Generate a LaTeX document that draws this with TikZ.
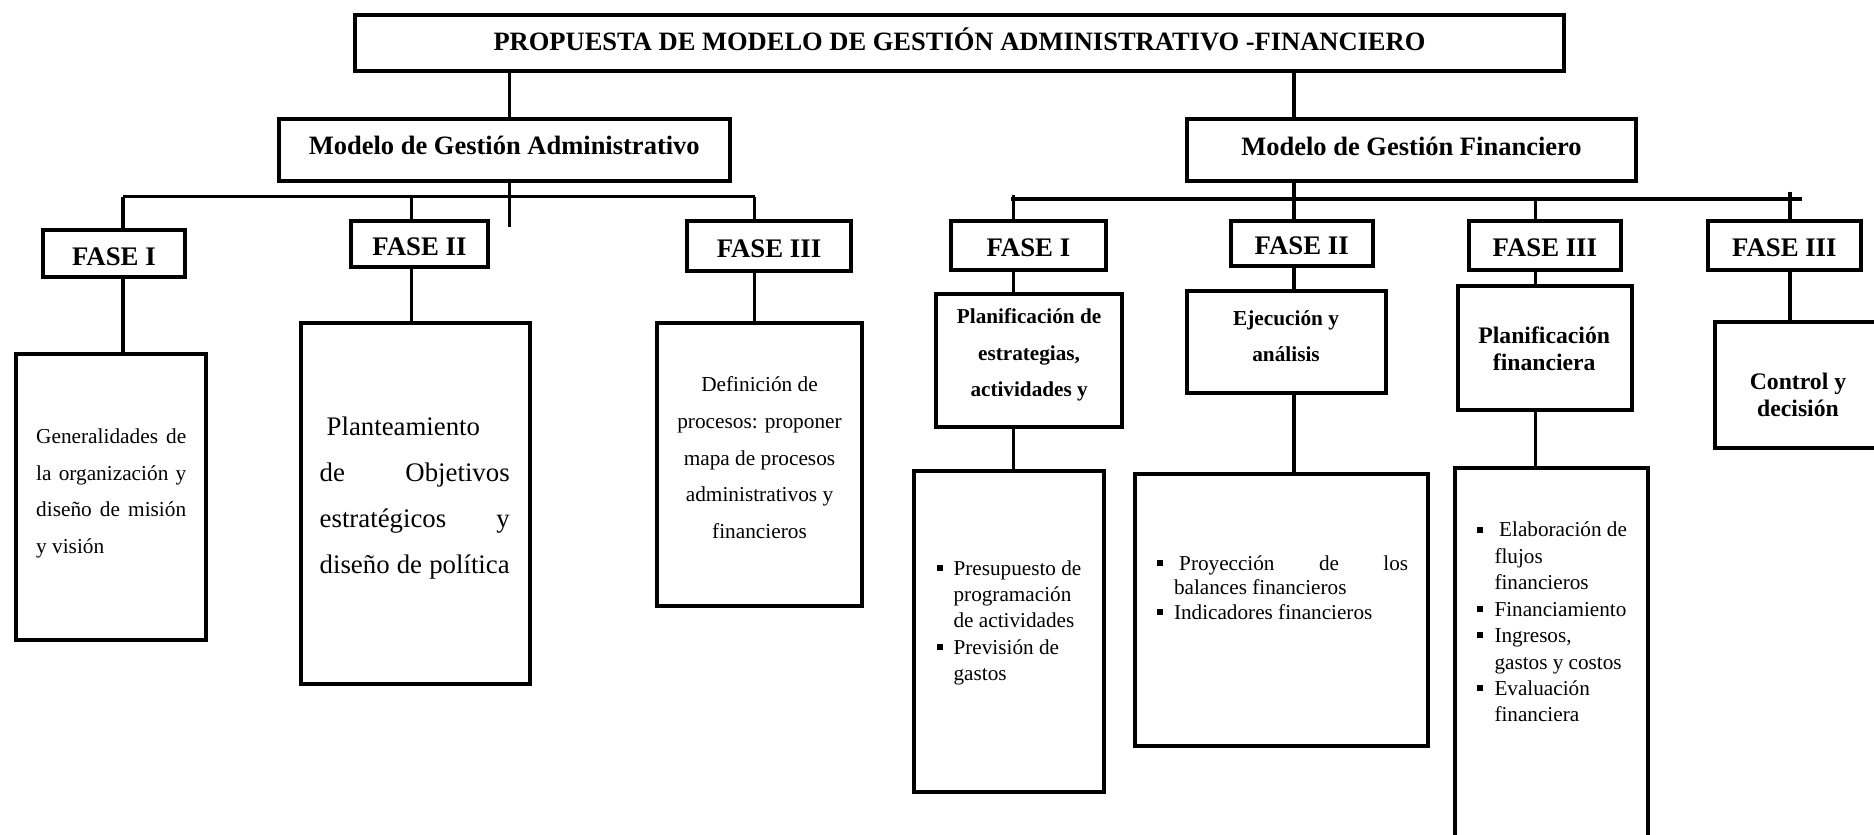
\documentclass[tikz,border=0pt]{standalone}
\usepackage{fontspec}
\setmainfont{Liberation Serif}
\newcommand\fhead{\fontsize{26.5}{32}\selectfont\bfseries}
\newcommand\ffase{\fontsize{26.8}{32}\selectfont\bfseries}
\begin{document}
\begin{tikzpicture}[x=1pt,y=-1pt,
  box/.style={draw, line width=4pt, inner sep=0pt},
  wh/.style 2 args={minimum width=#1pt, minimum height=#2pt},
  link/.style={line width=3.6pt},
  headbox/.style={box, font=\fhead, text height=10pt, text depth=0pt},
  fasebox/.style={box, font=\ffase, text height=23pt, text depth=0pt},
  txt/.style={inner sep=0pt},
  sq/.style={fill, inner sep=0pt, minimum size=6pt}]
\useasboundingbox (0,0) rectangle (1874,835);
\clip (0,0) rectangle (1874,835);

% ---- top level ----
\node[box, wh={1209}{56.5}, font=\fhead, text height=15pt, text depth=0pt] (title) at (959.5,42.75)
  {PROPUESTA DE MODELO DE GESTIÓN ADMINISTRATIVO -FINANCIERO};
\node[headbox, wh={450.5}{61.5}] (admin) at (504.25,149.75) {Modelo de Gestión Administrativo};
\node[headbox, wh={449.8}{61.4}] (fin) at (1411.5,150) {Modelo de Gestión Financiero};

% ---- administrative branch ----
\node[fasebox, wh={142.2}{47}]   (aF1) at (113.9,253.6) {FASE I};
\node[fasebox, wh={137}{46.8}]   (aF2) at (419.5,243.9) {FASE II};
\node[fasebox, wh={164}{50.5}]   (aF3) at (769,245.9)   {FASE III};
\node[box, wh={189.6}{285.5}] (gen)  at (111.2,496.75) {};
\node[box, wh={228.6}{360.7}] (plan) at (415.3,503.35) {};
\node[box, wh={205}{283}]     (defi) at (759.5,464.5)  {};

\node[txt, anchor=north west, align=left, font=\fontsize{21.3}{36.7}\selectfont] (tgen) at (36,417.6)
  {\strut\makebox[150pt][s]{Generalidades de}\\\makebox[150pt][s]{la organización y}\\\makebox[150pt][s]{diseño de misión}\\y visión};
\node[txt, anchor=north west, align=left, font=\fontsize{26.8}{46.1}\selectfont] (tplan) at (319.5,402.7)
  {\strut\hspace*{7pt}Planteamiento\\\makebox[190pt][s]{de Objetivos}\\\makebox[190pt][s]{estratégicos y}\\\makebox[190pt][s]{diseño de política}};
\node[txt, anchor=north, align=center, font=\fontsize{21.3}{36.65}\selectfont] (tdefi) at (759.5,366)
  {\strut Definición de\\procesos: proponer\\mapa de procesos\\administrativos y\\financieros};

% ---- financial branch ----
\node[fasebox, wh={155.8}{49.2}] (fF1) at (1028.4,245.1)  {FASE I};
\node[fasebox, wh={141.5}{45.8}] (fF2) at (1301.75,243.4) {FASE II};
\node[fasebox, wh={151.7}{49.2}] (fF3) at (1544.85,245.1) {FASE III};
\node[fasebox, wh={152.7}{48.7}] (fF4) at (1784.35,245.35) {FASE III};

\node[box, wh={185.4}{133}]   (pe)  at (1029.1,360)    {};
\node[box, wh={199.3}{101.2}] (ej)  at (1286.65,341.9) {};
\node[box, wh={174}{123.5}]   (pf)  at (1544.5,347.75) {};
\node[box, wh={183.3}{125.5}] (ctl) at (1806.35,384.75) {};
\node[box, wh={190}{320.5}]   (b1)  at (1009,631.55)   {};
\node[box, wh={293.5}{271.7}] (b2)  at (1281.55,609.85) {};
\node[box, wh={192.7}{390.5}] (b3)  at (1551.65,662.75) {};

\node[txt, anchor=north, align=center, font=\fontsize{21.2}{36.7}\selectfont\bfseries] (tpe) at (1029.1,297.6)
  {\strut Planificación de\\estrategias,\\actividades y};
\node[txt, anchor=north, align=center, font=\fontsize{21.3}{36}\selectfont\bfseries] (tej) at (1286,300.5)
  {\strut Ejecución y\\análisis};
\node[txt, anchor=north, align=center, font=\fontsize{23.7}{26.7}\selectfont\bfseries] (tpf) at (1544.2,324.6)
  {\strut Planificación\\financiera};
\node[txt, anchor=north, align=center, font=\fontsize{23.7}{26.7}\selectfont\bfseries] (tctl) at (1798,370.6)
  {\strut Control y\\decisión};

\node[txt, anchor=north west, align=left, font=\fontsize{21.2}{26.3}\selectfont] (tb1) at (953.4,556.6)
  {\strut Presupuesto de\\programación\\de actividades\\Previsión de\\gastos};
\node[sq] (s1a) at (940,568) {};
\node[sq] (s1b) at (940,646.9) {};

\node[txt, anchor=north west, align=left, font=\fontsize{21.2}{24.7}\selectfont] (tb2) at (1173.8,552.7)
  {\strut\hspace*{5.2pt}\makebox[229pt][s]{Proyección de los}\\balances financieros\\Indicadores financieros};
\node[sq] (s2a) at (1160.3,563) {};
\node[sq] (s2b) at (1160.3,612.3) {};

\node[txt, anchor=north west, align=left, font=\fontsize{21.2}{26.43}\selectfont] (tb3) at (1494.3,518.2)
  {\strut\hspace*{4.7pt}Elaboración de\\flujos\\financieros\\Financiamiento\\Ingresos,\\gastos y costos\\Evaluación\\financiera};
\node[sq] (s3a) at (1480,529.7) {};
\node[sq] (s3b) at (1480,609) {};
\node[sq] (s3c) at (1480,635.4) {};
\node[sq] (s3d) at (1480,688.3) {};

% ---- connector junctions ----
\coordinate (jA)  at (509.6,226.7);
\coordinate (busA) at (123,196.5);
\coordinate (busAr) at (754.6,196.5);
\coordinate (dA2) at (411.5,196.5);
\coordinate (jF)  at (1293.7,199);
\coordinate (busF) at (1011,199);
\coordinate (busFr) at (1802,199);
\coordinate (dF1) at (1013.3,194.5);
\coordinate (dF3) at (1535.5,199);
\coordinate (dF4) at (1790,191.7);

% administrative connectors
\draw[link] (jA |- title.south) -- (jA |- admin.north);
\draw[link] (jA |- admin.south) -- (jA);
\draw[link] (busA) -- (busAr);
\draw[link] (busA) -- (busA |- aF1.north);
\draw[link] (dA2) -- (dA2 |- aF2.north);
\draw[link] (busAr) -- (busAr |- aF3.north);
\draw[link] (busA |- aF1.south) -- (busA |- gen.north);
\draw[link] (dA2 |- aF2.south) -- (dA2 |- plan.north);
\draw[link] (busAr |- aF3.south) -- (busAr |- defi.north);

% financial connectors
\draw[link] (jF |- title.south) -- (jF |- fin.north);
\draw[link] (jF |- fin.south) -- (jF |- fF2.north);
\draw[link] (busF) -- (busFr);
\draw[link] (dF1) -- (dF1 |- fF1.north);
\draw[link] (dF3) -- (dF3 |- fF3.north);
\draw[link] (dF4) -- (dF4 |- fF4.north);
\draw[link] (dF1 |- fF1.south) -- (dF1 |- pe.north);
\draw[link] (dF1 |- pe.south) -- (dF1 |- b1.north);
\draw[link] (jF |- fF2.south) -- (jF |- ej.north);
\draw[link] (jF |- ej.south) -- (jF |- b2.north);
\draw[link] (dF3 |- fF3.south) -- (dF3 |- pf.north);
\draw[link] (dF3 |- pf.south) -- (dF3 |- b3.north);
\draw[link] (dF4 |- fF4.south) -- (dF4 |- ctl.north);
\end{tikzpicture}
\end{document}
